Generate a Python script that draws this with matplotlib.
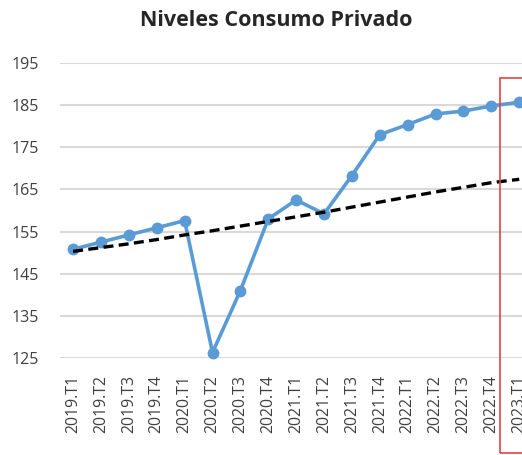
import matplotlib
matplotlib.use("Agg")
import matplotlib.pyplot as plt
import matplotlib.patches as mpatches

# data
periodos = ["2019.T1", "2019.T2", "2019.T3", "2019.T4",
            "2020.T1", "2020.T2", "2020.T3", "2020.T4",
            "2021.T1", "2021.T2", "2021.T3", "2021.T4",
            "2022.T1", "2022.T2", "2022.T3", "2022.T4",
            "2023.T1"]
consumo = [150.8, 152.5, 154.2, 155.9,
           157.6, 126.3, 141.0, 158.0,
           162.5, 159.2, 168.3, 178.0,
           180.4, 182.9, 183.6, 184.8,
           185.7]
tendencia = [150.3, 151.2, 152.1, 153.1,
             154.2, 155.2, 156.3, 157.4,
             158.5, 159.6, 160.8, 162.0,
             163.2, 164.4, 165.5, 166.6,
             167.4]
y_ticks = [125, 135, 145, 155, 165, 175, 185, 195]

C_LINE = "#5B9BD5"
C_GRID = "#D9D9D9"
C_TEXT = "#404040"

plt.rcParams["font.family"] = ["Open Sans", "DejaVu Sans"]

W, H = 522, 455
fig = plt.figure(figsize=(W / 100, H / 100), dpi=100)
ax = fig.add_axes([60 / W, (H - 358) / H, 1 - 60 / W, (358 - 63) / H])

x = list(range(len(periodos)))
ax.plot(x, consumo, "o-", color=C_LINE, lw=2.6, ms=7.5, zorder=3, clip_on=False)
ax.plot(x, tendencia, "--", color="black", lw=2.4, dashes=(3, 1.6), zorder=4)

ax.set_ylim(125, 195)
ax.set_xlim(-0.47, 16.1)
ax.set_yticks(y_ticks)
ax.set_xticks(x)
ax.set_xticklabels(periodos, rotation=90)
ax.tick_params(axis="both", length=0, colors=C_TEXT)
ax.tick_params(axis="y", labelsize=11.5, pad=15)
ax.tick_params(axis="x", labelsize=11.4, pad=12)
ax.grid(True, axis="y", color=C_GRID, lw=1.5)
ax.set_axisbelow(True)
for s in ax.spines.values():
    s.set_visible(False)

fig.text(276 / W, 1 - 20 / H, "Niveles Consumo Privado", ha="center", va="center",
         fontsize=15.5, fontweight="bold", color="#262626")

# red highlight box around the last quarter
rect = mpatches.Rectangle((500 / W, (H - 453) / H), 40 / W, (453 - 78) / H,
                          transform=fig.transFigure, fill=False,
                          edgecolor="#E8423F", lw=1.2, zorder=10)
fig.patches.append(rect)

fig.savefig("out.png", dpi=100)
